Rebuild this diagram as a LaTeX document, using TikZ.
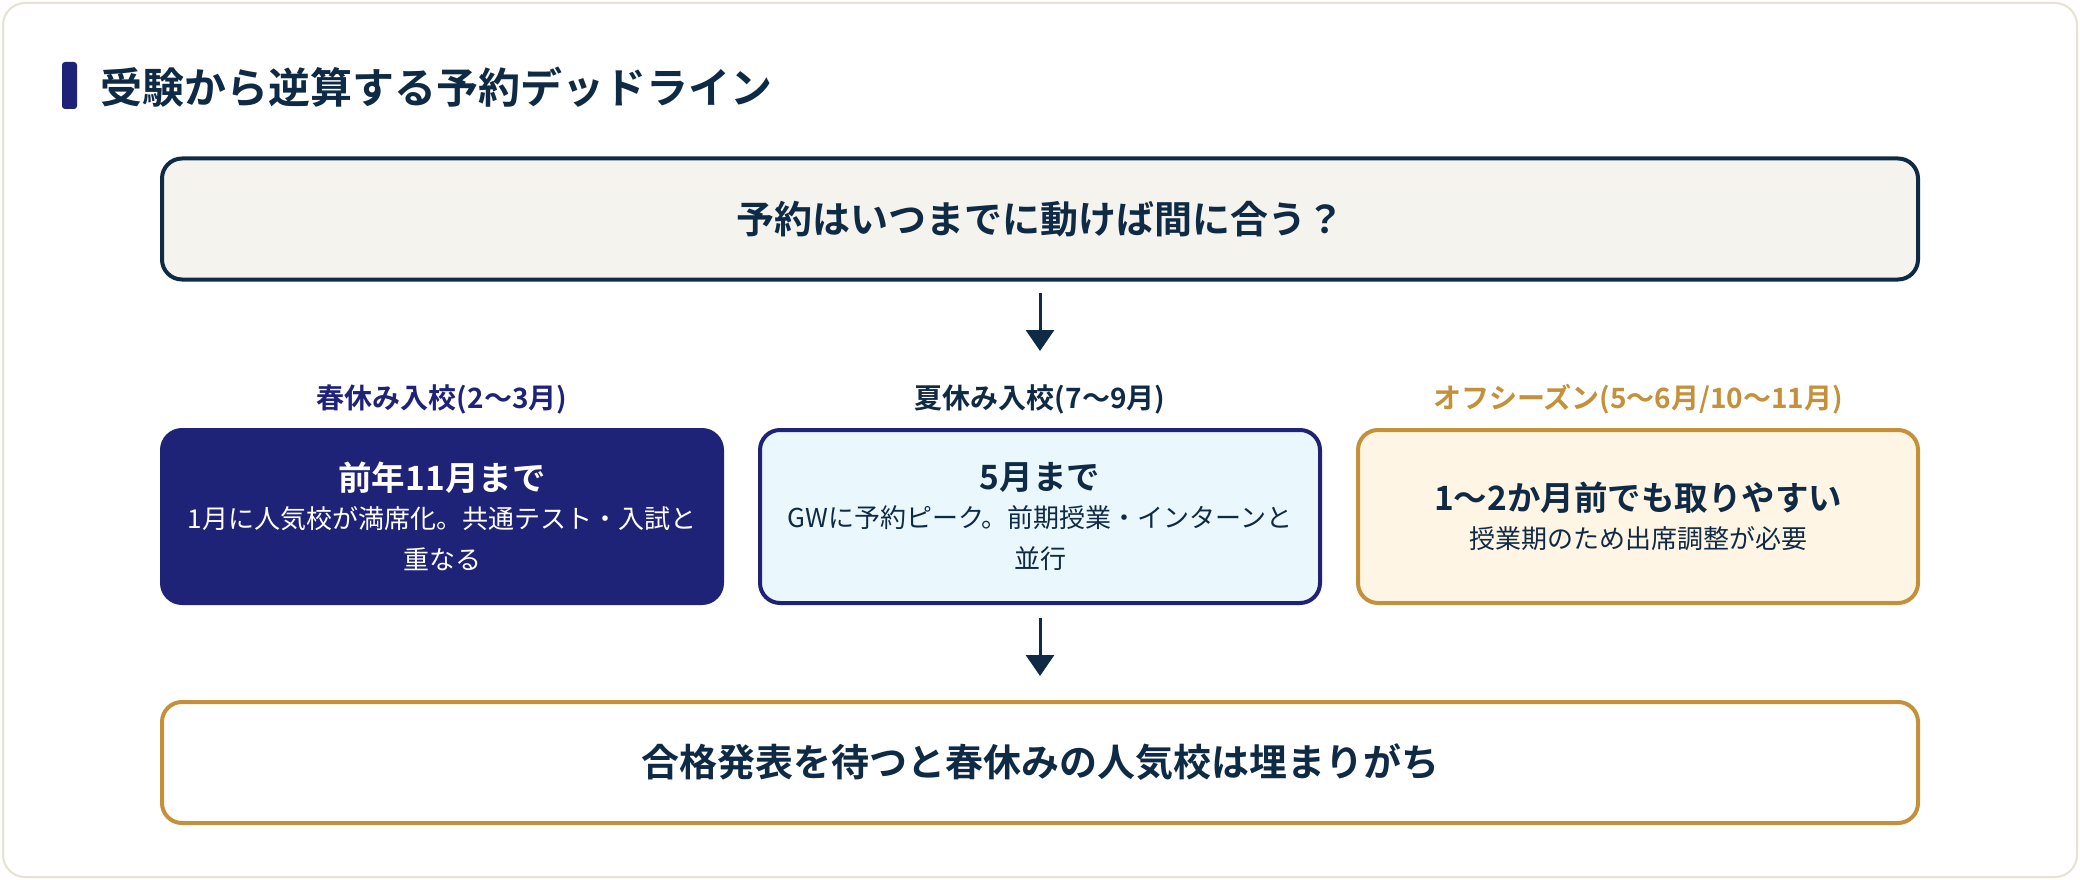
\documentclass[tikz,border=0pt]{standalone}
\usepackage{fontspec}
\setmainfont{Noto Sans CJK JP}[BoldFont={* Bold}]
\usepackage{tikz}
\usetikzlibrary{positioning}
\usetikzlibrary{arrows.meta}
\definecolor{ink}{HTML}{0F2A44}
\definecolor{indigo}{HTML}{1E2378}
\definecolor{gold}{HTML}{C4903A}
\definecolor{paper}{HTML}{F5F3EE}
\definecolor{cream}{HTML}{FFF5E4}
\definecolor{icy}{HTML}{EAF8FD}
\definecolor{rim}{HTML}{E5E2D5}
\tikzset{
    x=1pt, y=-1pt, % one unit is one pixel of the reference, y runs down
    box/.style={ % every rounded box
        rounded corners=20pt,
        line width=4pt,
        outer sep=0pt,
        inner sep=0pt,
        align=center
    },
    wide/.style={ % full width boxes at top and bottom
        box,
        minimum width=1756pt,
        minimum height=121pt,
        text=ink,
        font=\bfseries\fontsize{38}{46}\selectfont
    },
    card/.style={ % the three season boxes
        box,
        minimum width=560pt,
        minimum height=173pt,
        font=\fontsize{26}{41}\selectfont
    },
    season/.style={ % small heading over each card
        font=\bfseries\fontsize{28}{32}\selectfont
    },
    flow/.style={ % arrows between the rows
        draw=ink,
        line width=3pt,
        -{Triangle[length=21pt,width=28pt]}
    }
}
\newcommand{\cardhead}[1]{{\bfseries\fontsize{33.5}{40}\selectfont #1}}

\begin{document}
\begin{tikzpicture}
    \useasboundingbox (0,0) rectangle (2080,880);
    \draw[rim, fill=white, line width=2pt, rounded corners=22pt] (3,3) rectangle (2077,877);

    % heading
    \fill[indigo, rounded corners=3pt] (62,62) rectangle (77,109);
    \node[anchor=west, text=ink, font=\bfseries\fontsize{42}{50}\selectfont] (head) at (97,87) {受験から逆算する予約デッドライン};

    \node[wide, draw=ink, fill=paper] (ask) at (1040,219) {予約はいつまでに動けば間に合う？};

    \node[card, draw=indigo, fill=icy, text=ink] (summer) at (1040,516.5) {\cardhead{5月まで}\\[-3pt]GWに予約ピーク。前期授業・インターンと\\並行};
    \node[card, draw=indigo, fill=indigo, text=white, left=38pt of summer] (spring) {\cardhead{前年11月まで}\\[-3pt]1月に人気校が満席化。共通テスト・入試と\\重なる};
    \node[card, draw=gold, fill=cream, text=ink, right=38pt of summer] (off) {\cardhead{1〜2か月前でも取りやすい}\\[-3pt]授業期のため出席調整が必要};

    \node[season, text=indigo] (springtag) at ([yshift=31pt]spring.north) {春休み入校(2〜3月)};
    \node[season, text=ink] (summertag) at ([yshift=31pt]summer.north) {夏休み入校(7〜9月)};
    \node[season, text=gold] (offtag) at ([yshift=31pt]off.north) {オフシーズン(5〜6月/10〜11月)};

    \node[wide, draw=gold, fill=white, below=99pt of summer] (pass) {合格発表を待つと春休みの人気校は埋まりがち};

    \draw[flow, shorten <=13pt, shorten >=79pt] (ask) -- (summer);
    \draw[flow, shorten <=15pt, shorten >=26pt] (summer) -- (pass);
\end{tikzpicture}
\end{document}
